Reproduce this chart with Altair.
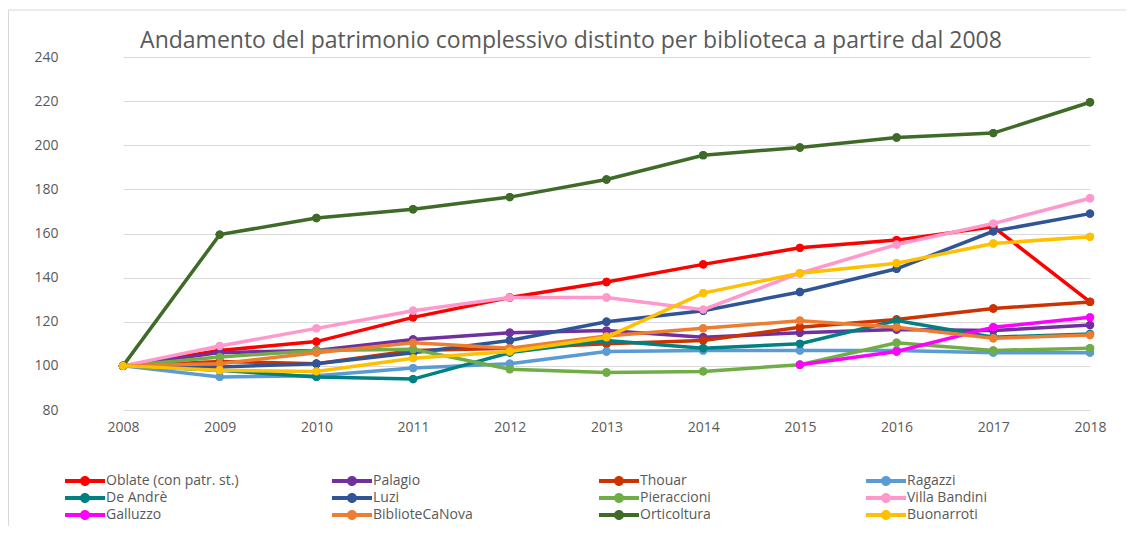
import altair as alt
import pandas as pd

years = [2008, 2009, 2010, 2011, 2012, 2013, 2014, 2015, 2016, 2017, 2018]

names = ["Oblate (con patr. st.)", "Palagio", "Thouar", "Ragazzi",
         "De Andrè", "Luzi", "Pieraccioni", "Villa Bandini",
         " Galluzzo", "BiblioteCaNova", "Orticoltura", "Buonarroti"]

colors = ["#FF0000", "#7030A0", "#CC3300", "#5B9BD5",
          "#008080", "#2F5597", "#70AD47", "#FF99CC",
          "#FF00FF", "#ED7D31", "#3F6B29", "#FFC000"]

oblate = [100, 107, 111, 122, 131, 138, 146, 153.5, 157, 163, 129]
palagio = [100, 106, 107, 112, 115, 116, 113, 115, 116.5, 116, 118.5]
thouar = [100, 102, 101, 107, 108, 110, 111.5, 117.5, 121, 126, 129]
ragazzi = [100, 95, 95.5, 99, 101, 106.5, 107, 107, 107, 106, 106]
de_andre = [100, 98, 95, 94, 106, 111.5, 108, 110, 120.5, 113, 114.5]
luzi = [100, 99.5, 101, 106, 111.5, 120, 125, 133.5, 144, 161, 169]
pieraccioni = [100, 104, 107, 107.5, 98.5, 97, 97.5, 100.5, 110.5, 107, 108]
villa_bandini = [100, 109, 117, 125, 131, 131, 125.5, 142, 155, 164.5, 176]
galluzzo = [None, None, None, None, None, None, None, 100.5, 106.5, 117.5, 122]
bibliotecanova = [100, 101, 106, 110.5, 108, 113.5, 117, 120.5, 117.5, 112.5, 114]
orticoltura = [100, 159.5, 167, 171, 176.5, 184.5, 195.5, 199, 203.5, 205.5, 219.5]
buonarroti = [100, 98, 97.5, 103.5, 106.5, 113, 133, 142, 146.5, 155.5, 158.5]

series = [oblate, palagio, thouar, ragazzi, de_andre, luzi, pieraccioni,
          villa_bandini, galluzzo, bibliotecanova, orticoltura, buonarroti]

title_text = "Andamento del patrimonio complessivo distinto per biblioteca a partire dal 2008"

rows = []
for n, vals in zip(names, series):
    for yr, v in zip(years, vals):
        if v is not None:
            rows.append({"Biblioteca": n, "Anno": str(yr), "Valore": v})
df = pd.DataFrame(rows)

W, H = 1051, 353
FONT = "Open Sans"
GRAY = "#595959"

color_scale = alt.Scale(domain=names, range=colors)
x_enc = alt.X("Anno:O", title=None,
              scale=alt.Scale(type="point", range=[48, 1015], padding=0),
              axis=alt.Axis(labelAngle=0, ticks=False, domain=False, grid=False,
                            labelPadding=10, labelFontSize=14, labelFont=FONT,
                            labelColor=GRAY))
y_enc = alt.Y("Valore:Q", title=None,
              scale=alt.Scale(domain=[80, 240], nice=False, zero=False),
              axis=alt.Axis(values=[80, 100, 120, 140, 160, 180, 200, 220, 240],
                            ticks=False, domain=False, gridColor="#D9D9D9",
                            gridWidth=1, labelPadding=17, labelFontSize=14,
                            labelFont=FONT, labelColor=GRAY))

legend_path = ("M-4,-0.42L4,-0.42L4,0.42L-4,0.42Z "
               "M-1,0A1,1 0 1,1 1,0A1,1 0 1,1 -1,0Z")

base = alt.Chart(df)

legend_layer = base.mark_point(filled=True, size=70, opacity=1).encode(
    x=x_enc, y=y_enc,
    color=alt.Color("Biblioteca:N", scale=color_scale, sort=names,
                    legend=alt.Legend(
                        title=None, orient="none", legendX=-12, legendY=417,
                        direction="horizontal", columns=4, gridAlign="all",
                        columnPadding=91, rowPadding=3,
                        symbolType=legend_path, symbolSize=100,
                        symbolOffset=15, labelOffset=14, symbolStrokeWidth=0,
                        labelFont=FONT, labelFontSize=14, labelColor=GRAY,
                        labelLimit=300)))

layers = [legend_layer]
for n in names:
    lay = base.transform_filter(alt.datum.Biblioteca == n).mark_line(
        strokeWidth=3.5,
        point=alt.OverlayMarkDef(filled=True, size=70, opacity=1)).encode(
        x=x_enc, y=y_enc,
        color=alt.Color("Biblioteca:N", scale=color_scale, legend=None))
    layers.append(lay)

border_left = alt.Chart().mark_rule(color="#D9D9D9", strokeWidth=1).encode(
    x=alt.value(-66.5), y=alt.value(-47), y2=alt.value(470))
border_top = alt.Chart().mark_rule(color="#D9D9D9", strokeWidth=1).encode(
    x=alt.value(-66.5), x2=alt.value(1060), y=alt.value(-47))
title_mark = alt.Chart().mark_text(
    text=title_text, font=FONT, fontSize=23, color=GRAY,
    align="center", baseline="alphabetic").encode(
    x=alt.value(496), y=alt.value(-9))

chart = alt.layer(border_left, border_top, title_mark, *layers).resolve_legend(
    color="independent"
).properties(
    width=W, height=H,
    autosize=alt.AutoSizeParams(type="none"),
    padding={"left": 67, "top": 49, "right": 0, "bottom": 116},
).configure_view(stroke=None)

chart.save("out.html", embed_options={"renderer": "svg", "actions": False})
